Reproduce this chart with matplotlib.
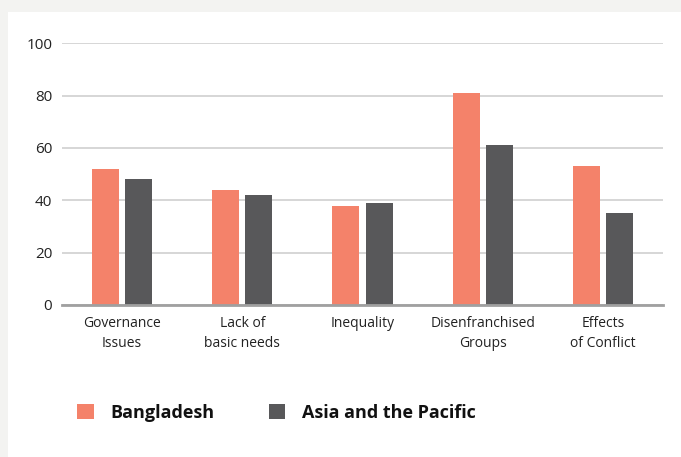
import numpy as np
import matplotlib
matplotlib.use("Agg")
import matplotlib.pyplot as plt
from matplotlib.patches import Rectangle

plt.rcParams['font.family'] = ['Open Sans', 'DejaVu Sans']

# data
categories = ["Governance\nIssues", "Lack of\nbasic needs", "Inequality",
              "Disenfranchised\nGroups", "Effects\nof Conflict"]
bangladesh = [52, 44, 38, 81, 53]
asia_pacific = [48, 42, 39, 61, 35]
yticks = [0, 20, 40, 60, 80, 100]

c_bd = "#f4826a"
c_ap = "#58585a"

fig = plt.figure(figsize=(6.81, 4.57), dpi=100, facecolor="#f3f3f1")
# white panel
fig.patches.append(Rectangle((8 / 681, 0), 1, 1 - 12 / 457, transform=fig.transFigure,
                             facecolor="white", edgecolor="none", zorder=-10))

ax = fig.add_axes([62 / 681, 152 / 457, 601 / 681, 261.7 / 457])
ax.set_zorder(2)
ax.set_facecolor("white")

x = np.arange(len(categories))
w = 0.225
b1 = ax.bar(x - 0.1375, bangladesh, w, color=c_bd, zorder=3, label="Bangladesh")
b2 = ax.bar(x + 0.1375, asia_pacific, w, color=c_ap, zorder=3, label="Asia and the Pacific")

ax.set_xlim(-0.5, len(categories) - 0.5)
ax.set_ylim(0, 100)
ax.set_yticks(yticks)
ax.set_yticklabels([str(v) for v in yticks], fontsize=11, color="#222222")
ax.set_xticks(x)
ax.set_xticklabels(categories, fontsize=10, color="#222222", linespacing=1.4)
ax.tick_params(axis='both', length=0)
ax.tick_params(axis='y', pad=7)
ax.tick_params(axis='x', pad=8)

ax.grid(axis='y', color="#cfcfcf", linewidth=1.2, zorder=0)
for s in ["top", "right", "left"]:
    ax.spines[s].set_visible(False)
ax.spines["bottom"].set_color("#a0a0a0")
ax.spines["bottom"].set_linewidth(2)
ax.spines["bottom"].set_zorder(4)

leg = fig.legend(handles=[b1, b2], loc="center left", bbox_to_anchor=(61 / 681, 44 / 457),
                 ncol=2, frameon=False, handlelength=0.9, handleheight=0.9,
                 handletextpad=0.95, columnspacing=3.0,
                 prop={'family': 'Open Sans', 'weight': 'bold', 'size': 13})
leg.set_zorder(3)
for t in leg.get_texts():
    t.set_color("#111111")

fig.savefig("out.png", dpi=100, facecolor=fig.get_facecolor())
